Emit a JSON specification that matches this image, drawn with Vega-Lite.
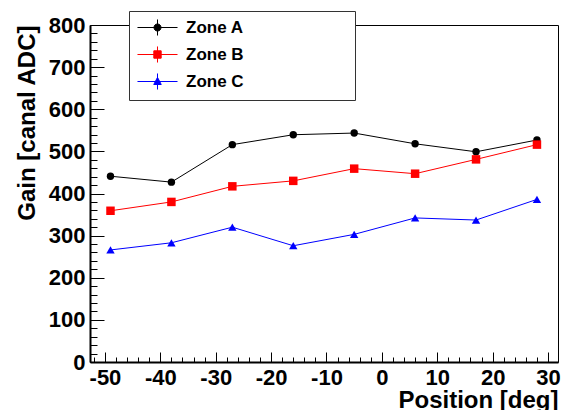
{
  "$schema": "https://vega.github.io/schema/vega-lite/v6.json",
  "autosize": {"type": "none"},
  "padding": {"left": 90, "top": 25, "right": 9, "bottom": 48},
  "width": 468,
  "height": 337,
  "background": "white",
  "data": {
    "values": [
      {"zone": "Zone A", "pos": -49, "gain": 441},
      {"zone": "Zone A", "pos": -38, "gain": 427},
      {"zone": "Zone A", "pos": -27, "gain": 516},
      {"zone": "Zone A", "pos": -16, "gain": 539.5},
      {"zone": "Zone A", "pos": -5, "gain": 543.5},
      {"zone": "Zone A", "pos": 6, "gain": 518},
      {"zone": "Zone A", "pos": 17, "gain": 499},
      {"zone": "Zone A", "pos": 28, "gain": 527},
      {"zone": "Zone B", "pos": -49, "gain": 359},
      {"zone": "Zone B", "pos": -38, "gain": 380},
      {"zone": "Zone B", "pos": -27, "gain": 417},
      {"zone": "Zone B", "pos": -16, "gain": 430},
      {"zone": "Zone B", "pos": -5, "gain": 459},
      {"zone": "Zone B", "pos": 6, "gain": 447},
      {"zone": "Zone B", "pos": 17, "gain": 481},
      {"zone": "Zone B", "pos": 28, "gain": 516},
      {"zone": "Zone C", "pos": -49, "gain": 266},
      {"zone": "Zone C", "pos": -38, "gain": 283},
      {"zone": "Zone C", "pos": -27, "gain": 320},
      {"zone": "Zone C", "pos": -16, "gain": 276},
      {"zone": "Zone C", "pos": -5, "gain": 303},
      {"zone": "Zone C", "pos": 6, "gain": 342},
      {"zone": "Zone C", "pos": 17, "gain": 337},
      {"zone": "Zone C", "pos": 28, "gain": 386}
    ]
  },
  "resolve": {"axis": {"x": "independent", "y": "independent"}},
  "layer": [
    {
      "transform": [{"filter": "datum.zone === 'Zone A'"}],
      "mark": {"type": "line", "strokeWidth": 1, "color": "#000000"},
      "encoding": {
        "x": {"field": "pos", "type": "quantitative",
          "scale": {"domain": [-52.7, 31.8], "nice": false, "zero": false},
          "axis": {"orient": "bottom", "values": [-50, -40, -30, -20, -10, 0, 10, 20, 30], "labelExpr": "toString(datum.value)", "ticks": false, "domain": true, "domainWidth": 2, "domainColor": "black", "grid": false,
            "labelFont": "Liberation Sans", "labelFontSize": 22, "labelFontWeight": "bold", "labelColor": "black", "labelPadding": 5, "labelFlush": false,
            "title": "Position [deg]", "titleAnchor": "end", "titleFont": "Liberation Sans", "titleFontSize": 24, "titleFontWeight": "bold", "titleColor": "black", "titlePadding": 0}},
        "y": {"field": "gain", "type": "quantitative",
          "scale": {"domain": [0, 800], "nice": false},
          "axis": {"orient": "left", "values": [0, 100, 200, 300, 400, 500, 600, 700, 800], "ticks": false, "domain": true, "domainWidth": 2, "domainColor": "black", "grid": false,
            "labelFont": "Liberation Sans", "labelFontSize": 22, "labelFontWeight": "bold", "labelColor": "black", "labelPadding": 5, "labelFlush": false,
            "title": "Gain [canal ADC]", "titleAnchor": "end", "titleFont": "Liberation Sans", "titleFontSize": 24, "titleFontWeight": "bold", "titleColor": "black", "titlePadding": 9}}
      }
    },
    {
      "transform": [{"filter": "datum.zone === 'Zone B'"}],
      "mark": {"type": "line", "strokeWidth": 1, "color": "#ff0000"},
      "encoding": {
        "x": {"field": "pos", "type": "quantitative", "axis": null},
        "y": {"field": "gain", "type": "quantitative", "axis": null}
      }
    },
    {
      "transform": [{"filter": "datum.zone === 'Zone C'"}],
      "mark": {"type": "line", "strokeWidth": 1, "color": "#0000ff"},
      "encoding": {
        "x": {"field": "pos", "type": "quantitative", "axis": null},
        "y": {"field": "gain", "type": "quantitative", "axis": null}
      }
    },
    {
      "transform": [{"filter": "datum.zone === 'Zone A'"}],
      "mark": {"type": "point", "shape": "circle", "filled": true, "opacity": 1, "size": 55, "color": "#000000"},
      "encoding": {
        "x": {"field": "pos", "type": "quantitative",
          "axis": {"orient": "bottom", "values": [-50, -40, -30, -20, -10, 0, 10, 20, 30], "labels": false, "domain": false, "ticks": true, "tickSize": -10, "tickColor": "black", "tickWidth": 1, "grid": false, "title": null}},
        "y": {"field": "gain", "type": "quantitative",
          "axis": {"orient": "left", "values": [0, 100, 200, 300, 400, 500, 600, 700, 800], "labels": false, "domain": false, "ticks": true, "tickSize": -14, "tickColor": "black", "tickWidth": 1, "grid": false, "title": null}}
      }
    },
    {
      "transform": [{"filter": "datum.zone === 'Zone B'"}],
      "mark": {"type": "point", "shape": "square", "filled": true, "opacity": 1, "size": 72, "color": "#ff0000"},
      "encoding": {
        "x": {"field": "pos", "type": "quantitative", "axis": null},
        "y": {"field": "gain", "type": "quantitative", "axis": null}
      }
    },
    {
      "transform": [{"filter": "datum.zone === 'Zone C'"}],
      "mark": {"type": "point", "shape": "triangle-up", "filled": true, "opacity": 1, "size": 70, "color": "#0000ff"},
      "encoding": {
        "x": {"field": "pos", "type": "quantitative", "axis": null},
        "y": {"field": "gain", "type": "quantitative", "axis": null}
      }
    },
    {
      "mark": {"type": "point", "filled": true, "size": 0},
      "encoding": {
        "x": {"field": "pos", "type": "quantitative",
          "axis": {"orient": "bottom", "values": [-52, -48, -46, -44, -42, -38, -36, -34, -32, -28, -26, -24, -22, -18, -16, -14, -12, -8, -6, -4, -2, 2, 4, 6, 8, 12, 14, 16, 18, 22, 24, 26, 28], "labels": false, "domain": false, "ticks": true, "tickSize": -5, "tickColor": "black", "tickWidth": 1, "grid": false, "title": null}},
        "y": {"field": "gain", "type": "quantitative",
          "axis": {"orient": "left", "values": [20, 40, 60, 80, 120, 140, 160, 180, 220, 240, 260, 280, 320, 340, 360, 380, 420, 440, 460, 480, 520, 540, 560, 580, 620, 640, 660, 680, 720, 740, 760, 780], "labels": false, "domain": false, "ticks": true, "tickSize": -7, "tickColor": "black", "tickWidth": 1, "grid": false, "title": null}},
        "color": {"field": "zone", "type": "nominal",
          "scale": {"domain": ["Zone A", "Zone B", "Zone C"], "range": ["#000000", "#ff0000", "#0000ff"]},
          "legend": {"orient": "none", "legendX": 39, "legendY": -14, "title": null, "fillColor": "white", "strokeColor": "#333333", "padding": 8,
            "labelFont": "Liberation Sans", "labelFontSize": 17, "labelFontWeight": "bold", "labelColor": "black", "labelOffset": 20, "labelLimit": 400,
            "symbolSize": 225, "symbolOffset": 12, "symbolStrokeWidth": 1, "symbolOpacity": 1, "rowPadding": 6}},
        "shape": {"field": "zone", "type": "nominal",
          "scale": {"domain": ["Zone A", "Zone B", "Zone C"], "range": [
            "M-2.67,0H2.67M0,-1.07V1.07M0.47,0A0.47,0.47,0,1,1,-0.47,0A0.47,0.47,0,1,1,0.47,0ZM24.9,0",
            "M-2.67,0H2.67M0,-1.07V1.07M-0.49,-0.49H0.49V0.49H-0.49ZM24.9,0",
            "M-2.67,0H2.67M0,-1.07V1.07M0,-0.55L0.5,0.4H-0.5ZM24.9,0"]},
          "legend": {"orient": "none", "legendX": 39, "legendY": -14, "title": null, "fillColor": "white", "strokeColor": "#333333", "padding": 8,
            "labelFont": "Liberation Sans", "labelFontSize": 17, "labelFontWeight": "bold", "labelColor": "black", "labelOffset": 20, "labelLimit": 400,
            "symbolSize": 225, "symbolOffset": 12, "symbolStrokeWidth": 1, "symbolOpacity": 1, "rowPadding": 6}},
        "stroke": {"field": "zone", "type": "nominal",
          "scale": {"domain": ["Zone A", "Zone B", "Zone C"], "range": ["#000000", "#ff0000", "#0000ff"]},
          "legend": {"orient": "none", "legendX": 39, "legendY": -14, "title": null, "fillColor": "white", "strokeColor": "#333333", "padding": 8,
            "labelFont": "Liberation Sans", "labelFontSize": 17, "labelFontWeight": "bold", "labelColor": "black", "labelOffset": 20, "labelLimit": 400,
            "symbolSize": 225, "symbolOffset": 12, "symbolStrokeWidth": 1, "symbolOpacity": 1, "rowPadding": 6}}
      }
    }
  ],
  "config": {
    "font": "Liberation Sans",
    "view": {"stroke": "black", "strokeWidth": 1}
  }
}
